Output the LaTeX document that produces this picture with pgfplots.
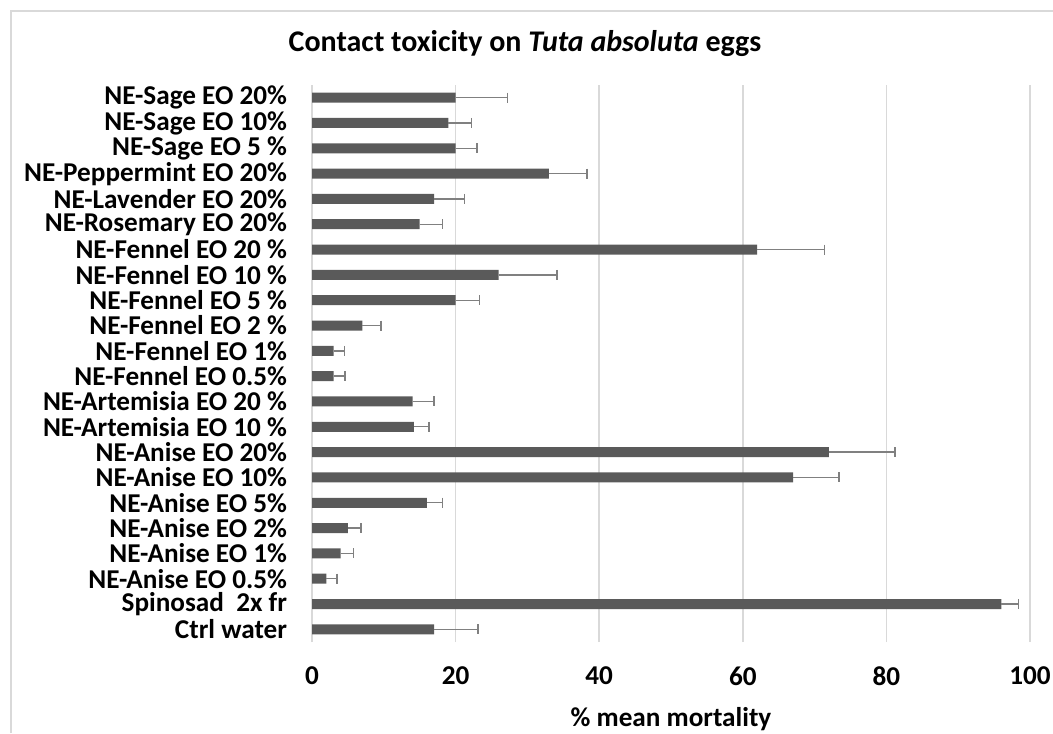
\documentclass[border=0pt]{standalone}
\usepackage{pgfplots}
\pgfplotsset{compat=1.18}
\usepackage{pgfplotstable}
\usepackage{fontspec}
\setmainfont{Carlito}
\definecolor{barc}{HTML}{5A5A5A}
\definecolor{gridc}{HTML}{D9D9D9}
\definecolor{errc}{HTML}{808080}
\pgfplotstableread{
i v e
21 20 7.2
20 19 3.2
19 20 3.0
18 33 5.3
17 17 4.2
16 15 3.2
15 62 9.4
14 26 8.1
13 20 3.3
12 7 2.6
11 3 1.5
10 3 1.6
9 14 3.0
8 14.2 2.1
7 72 9.2
6 67 6.4
5 16 2.2
4 5 1.8
3 4 1.8
2 2 1.5
1 96 2.4
0 17 6.1
}\datatab
\begin{document}
\begin{tikzpicture}
\useasboundingbox (0,0) rectangle (526.5pt,366.5pt);
\draw[gridc, line width=1pt] (5.5pt,0) -- (5.5pt,361pt) -- (526.5pt,361pt);
\node[font=\fontsize{15}{18}\selectfont\bfseries, anchor=base] at (262.5pt,340.5pt) {Contact toxicity on \textit{Tuta absoluta} eggs};
\begin{axis}[
  at={(156pt,45.5pt)}, anchor=south west,
  scale only axis, width=359pt, height=278.5pt,
  xbar, bar width=5pt,
  xmin=0, xmax=100, ymin=-0.5, ymax=21.5,
  xtick={0,20,...,100},
  ytick={0,...,21},
  yticklabels={Ctrl water, Spinosad\ \ 2x fr, NE-Anise EO 0.5\%, NE-Anise EO 1\%, NE-Anise EO 2\%, NE-Anise EO 5\%, NE-Anise EO 10\%, NE-Anise EO 20\%, NE-Artemisia EO 10 \%, NE-Artemisia EO 20 \%, NE-Fennel EO 0.5\%, NE-Fennel EO 1\%, NE-Fennel EO 2 \%, NE-Fennel EO 5 \%, NE-Fennel EO 10 \%, NE-Fennel EO 20 \%, NE-Rosemary EO 20\%, NE-Lavender EO 20\%, NE-Peppermint EO 20\%, NE-Sage EO 5 \%, NE-Sage EO 10\%, NE-Sage EO 20\%},
  axis line style={draw=none},
  major tick length=0pt,
  xmajorgrids, grid style={gridc, line width=0.8pt},
  tick label style={font=\fontsize{13.6}{15}\selectfont\bfseries},
  /pgf/number format/assume math mode=true,
  yticklabel style={xshift=-9pt, inner ysep=0pt},
  xticklabel style={yshift=-9pt},
  xlabel={\% mean mortality},
  xlabel style={font=\fontsize{13.6}{15}\selectfont\bfseries, yshift=-4pt},
  clip=false,
]
\addplot[fill=barc, draw=none,
  error bars/.cd, x dir=plus, x explicit,
  error bar style={errc, line width=0.7pt},
  error mark options={errc, line width=0.7pt, mark size=2.5pt, rotate=90}]
  table[x=v, y=i, x error=e] {\datatab};
\end{axis}
\end{tikzpicture}
\end{document}
